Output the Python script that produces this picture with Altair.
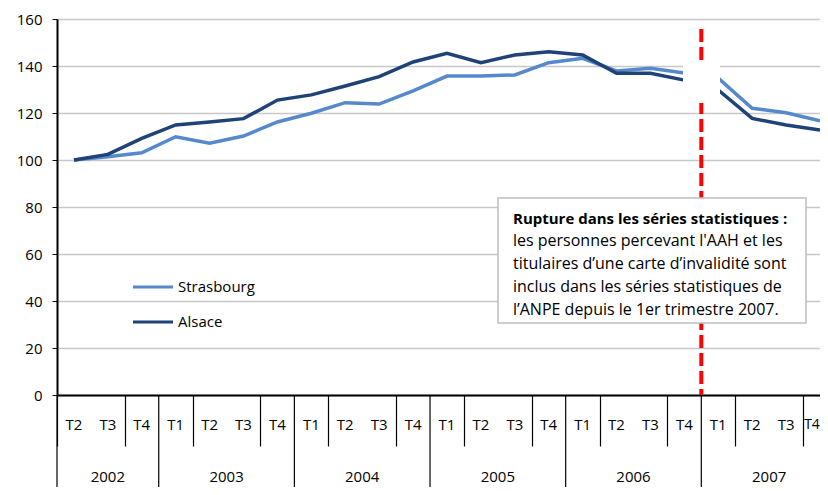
import altair as alt
import pandas as pd

# ---- data ----
quarters = ["T2", "T3", "T4"] + ["T1", "T2", "T3", "T4"] * 5
years = ["2002"] * 3 + ["2003"] * 4 + ["2004"] * 4 + ["2005"] * 4 + ["2006"] * 4 + ["2007"] * 4
strasbourg = [100, 101.4, 103.1, 109.9, 107.1, 110.2, 116.2, 119.9, 124.4, 123.8, 129.4,
              135.7, 135.7, 136.2, 141.4, 143.3, 137.9, 139.0, 137.0, 134.8, 122.0, 120.1, 116.7]
alsace = [100, 102.4, 109.2, 114.9, 116.2, 117.6, 125.5, 127.7, 131.5, 135.5, 141.7,
          145.4, 141.4, 144.7, 146.1, 144.7, 136.9, 136.9, 134.0, 129.8, 117.7, 114.9, 112.8]
series_names = ["Strasbourg", "Alsace"]
y_ticks = [0, 20, 40, 60, 80, 100, 120, 140, 160]
note_title = "Rupture dans les séries statistiques :"
note_lines = ["les personnes percevant l'AAH et les",
              "titulaires d’une carte d’invalidité sont",
              "inclus dans les séries statistiques de",
              "l’ANPE  depuis le 1er trimestre 2007."]

# ---- styles ----
FONT = "Open Sans"
FS = 15
COLORS = ["#5589cb", "#1f4277"]
W, H = 763, 376

n = len(quarters)
idx = list(range(n))
df = pd.DataFrame({
    "i": idx * 2,
    "series": [series_names[0]] * n + [series_names[1]] * n,
    "value": strasbourg + alsace,
})

xscale = alt.Scale(domain=[-0.5, 22.0], nice=False, zero=False)
yscale = alt.Scale(domain=[0, 160], nice=False)

boundaries = [b - 0.5 for b in range(n + 1)]
year_bounds = [i - 0.5 for i in range(n) if i == 0 or years[i] != years[i - 1]] + [n - 0.5]
break_x = years.index("2007") - 0.5

lines = alt.Chart(df).mark_line(strokeWidth=3.5).encode(
    x=alt.X("i:Q", scale=xscale,
            axis=alt.Axis(values=boundaries, tickSize=51, tickColor="black", tickWidth=1.2,
                          labels=False, title=None, grid=False, domainColor="black",
                          domainWidth=2)),
    y=alt.Y("value:Q", scale=yscale,
            axis=alt.Axis(values=y_ticks, grid=True, gridColor="#c8c8c8", gridWidth=1.5,
                          domainColor="black", domainWidth=2, tickColor="black", tickSize=5,
                          labelFontSize=FS, labelPadding=10, labelColor="black",
                          labelFont=FONT, title=None)),
    color=alt.Color("series:N", scale=alt.Scale(domain=series_names, range=COLORS), legend=None),
    order=alt.Order("i:Q"),
)

# quarter labels (the last one is nudged left so it stays inside the page)
qdf = pd.DataFrame({"i": idx, "q": quarters})
qtext = alt.Chart(qdf.iloc[:-1]).mark_text(fontSize=FS, font=FONT, color="black", baseline="middle").encode(
    x=alt.X("i:Q", scale=xscale), y=alt.value(406), text="q:N")
qlast = alt.Chart(qdf.iloc[-1:]).mark_text(fontSize=14, font=FONT, color="black", baseline="middle",
                                            dx=-8).encode(
    x=alt.X("i:Q", scale=xscale), y=alt.value(406), text="q:N")

# year labels
ydf = pd.DataFrame({"i": idx, "year": years}).groupby("year", as_index=False)["i"].mean()
ytext = alt.Chart(ydf).mark_text(fontSize=FS, font=FONT, color="black", baseline="middle").encode(
    x=alt.X("i:Q", scale=xscale), y=alt.value(458), text="year:N")

# year separators
ybdf = pd.DataFrame({"b": year_bounds})
ysep = alt.Chart(ybdf).mark_rule(color="black", strokeWidth=1.2).encode(
    x=alt.X("b:Q", scale=xscale), y=alt.value(H), y2=alt.value(H + 100))

one = pd.DataFrame({"k": [0]})

# red dashed break line
redline = alt.Chart(one).mark_rule(color="#ff0000", strokeWidth=4, strokeDash=[13, 5]).encode(
    x=alt.datum(break_x, scale=xscale), y=alt.value(10), y2=alt.value(H))

# white patch over the lines near the break
patch = alt.Chart(one).mark_rect(color="white").encode(
    x=alt.value(626), x2=alt.value(663), y=alt.value(43), y2=alt.value(84))

# annotation box
box = alt.Chart(one).mark_rect(fill="white", stroke="#bfbfbf", strokeWidth=1.5).encode(
    x=alt.value(441), x2=alt.value(749), y=alt.value(179), y2=alt.value(304))

note_bold = alt.Chart(pd.DataFrame({"t": [note_title]})).mark_text(
    fontSize=FS, font=FONT, fontWeight="bold", color="black", align="left", baseline="middle"
).encode(x=alt.value(456), y=alt.value(200), text="t:N")
note_text_layers = []
for k, line in enumerate(note_lines):
    note_text_layers.append(
        alt.Chart(pd.DataFrame({"t": [line]})).mark_text(
            fontSize=16, font=FONT, color="black", align="left", baseline="middle"
        ).encode(x=alt.value(456), y=alt.value(222 + 23 * k), text="t:N"))

# legend
legend_layers = []
for k, name in enumerate(series_names):
    ldf = pd.DataFrame({"t": [name]})
    legend_layers.append(alt.Chart(ldf).mark_rule(color=COLORS[k], strokeWidth=3).encode(
        x=alt.value(76), x2=alt.value(116), y=alt.value(268 + 35 * k)))
    legend_layers.append(alt.Chart(ldf).mark_text(
        fontSize=FS, font=FONT, color="black", align="left", baseline="middle").encode(
        x=alt.value(121), y=alt.value(268 + 35 * k), text="t:N"))

chart = alt.layer(
    lines, qtext, qlast, ytext, ysep, redline, patch, box, note_bold, *note_text_layers,
    *legend_layers
).properties(
    width=W, height=H,
    autosize=alt.AutoSizeParams(type="none"),
    padding={"left": 49, "top": 11, "right": 0, "bottom": 92},
).configure_view(stroke=None).configure_axis(labelFont=FONT)

chart.save("out.html", embed_options={"renderer": "svg", "actions": False})
